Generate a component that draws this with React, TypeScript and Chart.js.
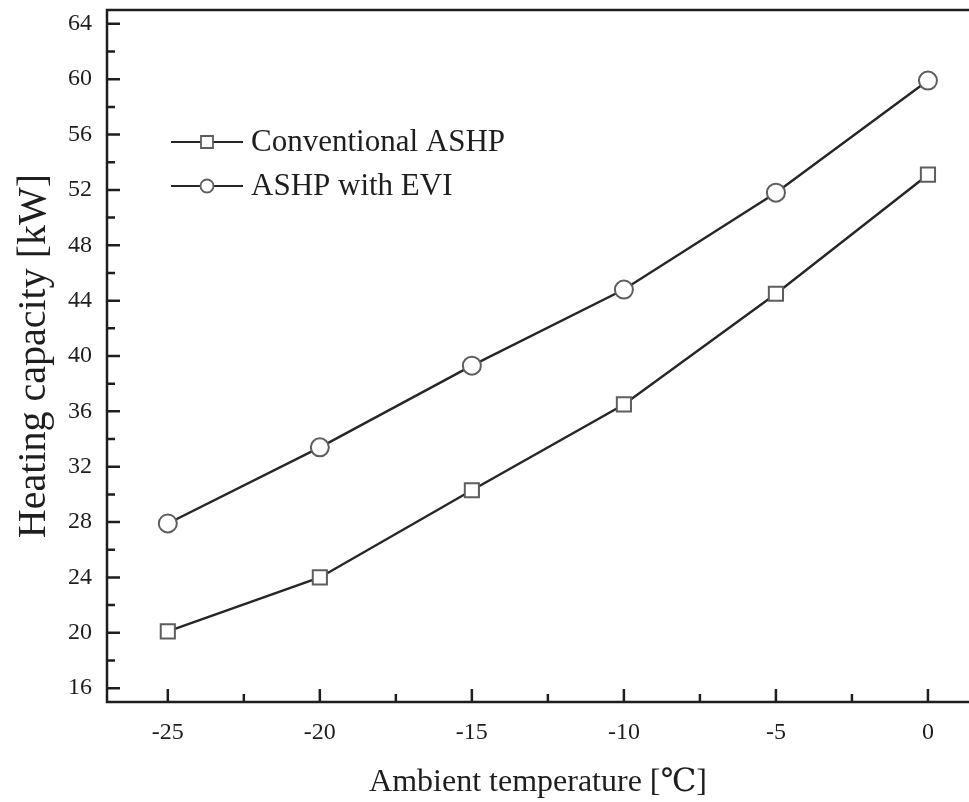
import React, { useEffect, useRef } from 'react';
import { Chart, registerables } from 'chart.js';

Chart.register(...registerables);

const temperatures = [-25, -20, -15, -10, -5, 0];
const conventionalASHP = [20.1, 24.0, 30.3, 36.5, 44.5, 53.1];
const ashpWithEVI = [27.9, 33.4, 39.3, 44.8, 51.8, 59.9];
const seriesLabels = ['Conventional ASHP', 'ASHP with EVI'];
const xMajorTicks = [-25, -20, -15, -10, -5, 0];
const xMinorTicks = [-22.5, -17.5, -12.5, -7.5, -2.5];
const yMajorTicks = [16, 20, 24, 28, 32, 36, 40, 44, 48, 52, 56, 60, 64];
const yMinorTicks = [18, 22, 26, 30, 34, 38, 42, 46, 50, 54, 58, 62];
const xTitle = 'Ambient temperature [℃]';
const yTitle = 'Heating capacity [kW]';

const FONT = '"Liberation Serif", "Times New Roman", "DejaVu Serif", serif';
const AXIS_COLOR = '#1e1e1e';
const LINE_COLOR = '#262626';
const MARKER_COLOR = '#5e5e5e';

const frameAndTicks = {
  id: 'frameAndTicks',
  afterDraw(chart: any) {
    const { ctx, chartArea } = chart;
    const xs = chart.scales.x;
    const ys = chart.scales.y;
    ctx.save();
    ctx.strokeStyle = AXIS_COLOR;
    ctx.lineWidth = 2.5;
    ctx.lineCap = 'butt';
    ctx.beginPath();
    ctx.moveTo(chartArea.right + 2, chartArea.top);
    ctx.lineTo(chartArea.left, chartArea.top);
    ctx.lineTo(chartArea.left, chartArea.bottom);
    ctx.lineTo(chartArea.right + 2, chartArea.bottom);
    ctx.stroke();
    const major = 13;
    const minor = 8;
    ctx.beginPath();
    xMajorTicks.forEach((v) => {
      const px = xs.getPixelForValue(v);
      ctx.moveTo(px, chartArea.bottom);
      ctx.lineTo(px, chartArea.bottom - major);
    });
    xMinorTicks.forEach((v) => {
      const px = xs.getPixelForValue(v);
      ctx.moveTo(px, chartArea.bottom);
      ctx.lineTo(px, chartArea.bottom - minor);
    });
    yMajorTicks.forEach((v) => {
      const py = ys.getPixelForValue(v);
      ctx.moveTo(chartArea.left, py);
      ctx.lineTo(chartArea.left + major, py);
    });
    yMinorTicks.forEach((v) => {
      const py = ys.getPixelForValue(v);
      ctx.moveTo(chartArea.left, py);
      ctx.lineTo(chartArea.left + minor, py);
    });
    ctx.stroke();
    ctx.restore();
  },
};

const insideLegend = {
  id: 'insideLegend',
  afterDraw(chart: any) {
    const { ctx, chartArea } = chart;
    const x0 = chartArea.left + 64;
    const rows = [chartArea.top + 132, chartArea.top + 176];
    ctx.save();
    chart.data.datasets.forEach((ds: any, i: number) => {
      const y = rows[i];
      ctx.strokeStyle = LINE_COLOR;
      ctx.lineWidth = 2;
      ctx.beginPath();
      ctx.moveTo(x0, y);
      ctx.lineTo(x0 + 72, y);
      ctx.stroke();
      const cx = x0 + 36;
      ctx.fillStyle = '#fff';
      ctx.strokeStyle = MARKER_COLOR;
      ctx.lineWidth = 1.8;
      ctx.beginPath();
      if (ds.pointStyle === 'rect') {
        ctx.rect(cx - 6, y - 6, 12, 12);
      } else {
        ctx.arc(cx, y, 6.5, 0, Math.PI * 2);
      }
      ctx.fill();
      ctx.stroke();
      ctx.fillStyle = '#1e1e1e';
      ctx.font = `31px ${FONT}`;
      ctx.textAlign = 'left';
      ctx.textBaseline = 'middle';
      ctx.fillText(ds.label, x0 + 80, y + 1);
    });
    ctx.restore();
  },
};

const zeroPadding = (scale: any) => {
  scale.paddingTop = 0;
  scale.paddingBottom = 0;
  scale.paddingLeft = 0;
  scale.paddingRight = 0;
};

export default function App() {
  const canvasRef = useRef<HTMLCanvasElement | null>(null);

  useEffect(() => {
    document.body.style.margin = '0';
    const canvas = canvasRef.current;
    if (!canvas) return;
    const chart = new Chart(canvas, {
      type: 'line',
      data: {
        datasets: [
          {
            label: seriesLabels[0],
            data: temperatures.map((t, i) => ({ x: t, y: conventionalASHP[i] })),
            borderColor: LINE_COLOR,
            borderWidth: 2.4,
            pointStyle: 'rect',
            pointRadius: 10,
            pointBorderWidth: 2,
            pointBorderColor: MARKER_COLOR,
            pointBackgroundColor: '#fff',
            tension: 0,
          },
          {
            label: seriesLabels[1],
            data: temperatures.map((t, i) => ({ x: t, y: ashpWithEVI[i] })),
            borderColor: LINE_COLOR,
            borderWidth: 2.4,
            pointStyle: 'circle',
            pointRadius: 9,
            pointBorderWidth: 2,
            pointBorderColor: MARKER_COLOR,
            pointBackgroundColor: '#fff',
            tension: 0,
          },
        ],
      },
      options: {
        responsive: false,
        animation: false,
        events: [],
        layout: { autoPadding: false, padding: { top: 10, left: 0, right: 0, bottom: 0 } },
        plugins: {
          legend: { display: false },
          tooltip: { enabled: false },
        },
        scales: {
          x: {
            type: 'linear',
            min: -27,
            max: 1.35,
            grid: { display: false, drawTicks: false },
            border: { display: false },
            afterBuildTicks: (scale: any) => {
              scale.ticks = xMajorTicks.map((v) => ({ value: v }));
            },
            afterFit: (scale: any) => {
              scale.height = 100;
              zeroPadding(scale);
            },
            ticks: {
              padding: 16,
              color: '#1e1e1e',
              font: { family: FONT, size: 24 },
              maxRotation: 0,
              callback: (v: any) => String(v),
            },
            title: {
              display: true,
              text: xTitle,
              color: '#1e1e1e',
              font: { family: FONT, size: 32 },
              padding: { top: 0, bottom: 0 },
            },
          },
          y: {
            type: 'linear',
            min: 15,
            max: 65,
            grid: { display: false, drawTicks: false },
            border: { display: false },
            afterBuildTicks: (scale: any) => {
              scale.ticks = yMajorTicks.map((v) => ({ value: v }));
            },
            afterFit: (scale: any) => {
              scale.width = 107;
              zeroPadding(scale);
            },
            ticks: {
              padding: 15,
              color: '#1e1e1e',
              font: { family: FONT, size: 24 },
              callback: (v: any) => String(v),
            },
            title: {
              display: true,
              text: yTitle,
              color: '#1e1e1e',
              font: { family: FONT, size: 40 },
              padding: { top: 10, bottom: 0 },
            },
          },
        },
      },
      plugins: [frameAndTicks, insideLegend],
    });
    return () => chart.destroy();
  }, []);

  return (
    <div style={{ position: 'absolute', left: 0, top: 0, width: 969, height: 802, background: '#fff' }}>
      <canvas ref={canvasRef} width={969} height={802} />
    </div>
  );
}
